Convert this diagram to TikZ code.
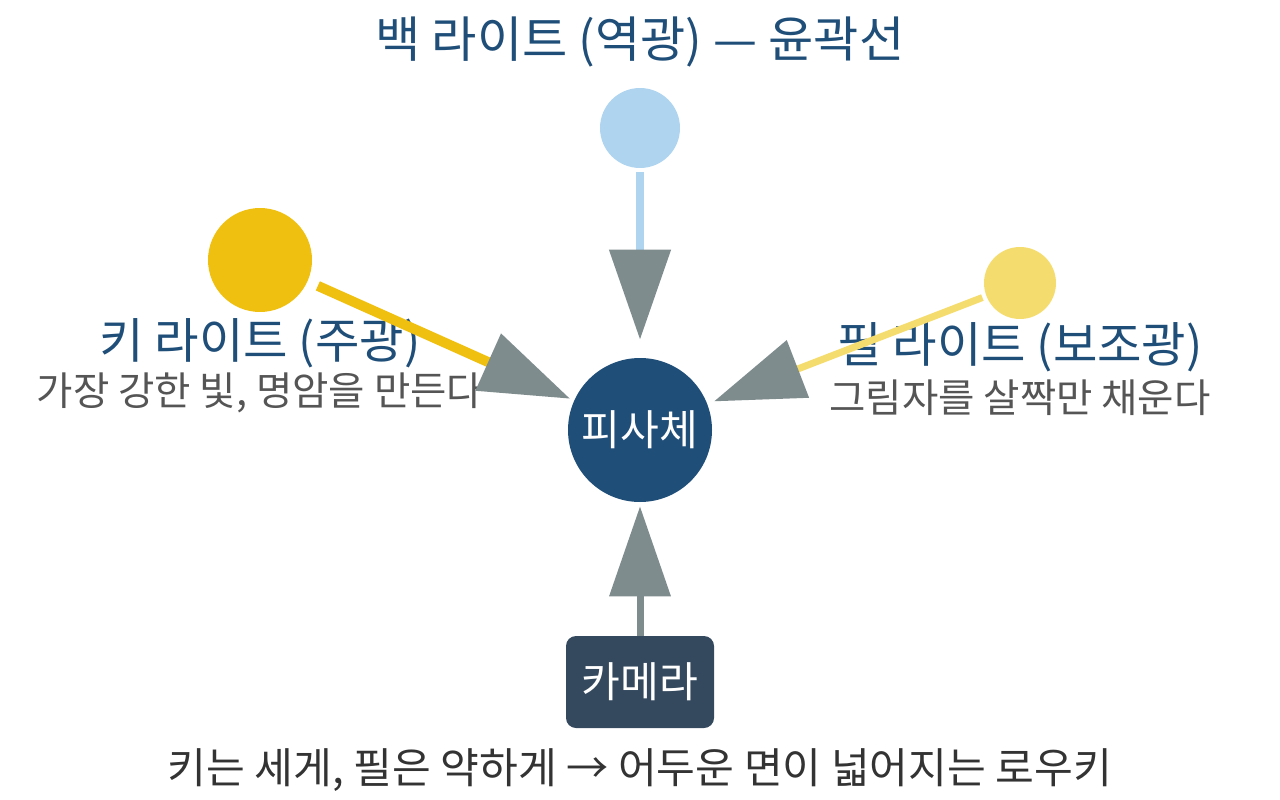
\documentclass[tikz,border=0pt]{standalone}
\usepackage{fontspec}
\setmainfont{Noto Sans CJK KR}
\usetikzlibrary{arrows.meta,positioning}
\definecolor{navy}{HTML}{1F4E79}
\definecolor{skyb}{HTML}{AED4F0}
\definecolor{keyy}{HTML}{F0C010}
\definecolor{filly}{HTML}{F5DC6E}
\definecolor{camc}{HTML}{34495E}
\definecolor{tipc}{HTML}{7F8C8D}
\definecolor{subc}{HTML}{555555}
\tikzset{
    lamp/.style={circle, inner sep=0pt},
    ray/.style={line width=#1, -{Triangle[length=1.8cm, width=1.2cm, color=tipc]}},
    head/.style={text=navy, font=\fontsize{27.5}{32}\selectfont},
    note/.style={text=subc, font=\fontsize{22.5}{26}\selectfont}
}
\begin{document}
\begin{tikzpicture}[x=0.02cm, y=-0.02cm]
    \useasboundingbox (0,0) rectangle (1280,800);
    % Lights and subject
    \node[lamp, fill=skyb, minimum size=80*0.02cm] (back) at (640,128) {};
    \node[lamp, fill=keyy, minimum size=104*0.02cm] (key) at (260,260) {};
    \node[lamp, fill=filly, minimum size=72*0.02cm] (fill) at (1020,283) {};
    \node[lamp, fill=navy, minimum size=144*0.02cm, text=white, font=\fontsize{24}{28}\selectfont] (subject) at (640,430) {피사체};
    \node[fill=camc, rounded corners=0.2cm, minimum width=148*0.02cm, minimum height=92*0.02cm, text=white, font=\fontsize{24}{28}\selectfont] (camera) at (640,682) {카메라};
    % Labels
    \node[head, font=\fontsize{28}{32}\selectfont] (backlabel) at (640,42) {백 라이트 (역광) — 윤곽선};
    \node[head] (keylabel) at (260,343) {키 라이트 (주광)};
    \node[note] (keynote) at (260,393) {가장 강한 빛, 명암을 만든다};
    \node[head] (filllabel) at (1020,347) {필 라이트 (보조광)};
    \node[note] (fillnote) at (1020,398) {그림자를 살짝만 채운다};
    \node[text=black!80, font=\fontsize{24}{28}\selectfont] (summary) at (640,770) {키는 세게, 필은 약하게 → 어두운 면이 넓어지는 로우키};
    % Rays
    \draw[ray=0.16cm, skyb, shorten <=4*0.02cm, shorten >=18*0.02cm] (back) -- (subject);
    \draw[ray=0.2cm, keyy, shorten <=11*0.02cm, shorten >=4*0.02cm] (key) -- (subject);
    \draw[ray=0.14cm, filly, shorten <=4*0.02cm, shorten >=7*0.02cm] (fill) -- (subject);
    \draw[ray=0.14cm, tipc, shorten >=4*0.02cm] (camera) -- (subject);
\end{tikzpicture}
\end{document}
